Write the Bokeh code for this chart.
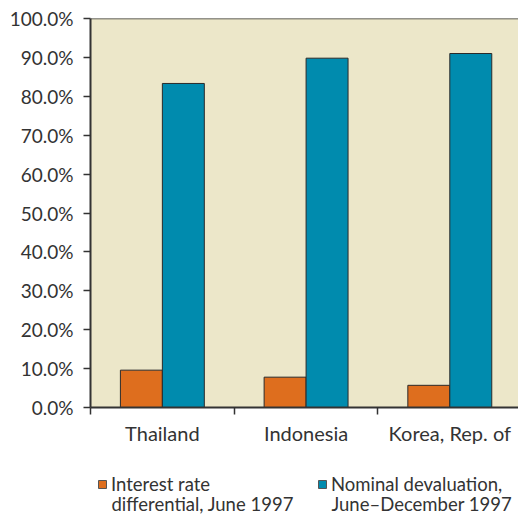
import numpy as np
from bokeh.plotting import figure
from bokeh.layouts import column
from bokeh.models import (ColumnDataSource, FixedTicker, PrintfTickFormatter, Legend,
                          LegendItem, Range1d, Span, Label)
from bokeh.embed import file_html
from bokeh.resources import INLINE

# ---- data ----
countries = ["Thailand", "Indonesia", "Korea, Rep. of"]
interest_rate_differential = [9.6, 7.8, 5.7]
nominal_devaluation = [83.3, 89.8, 91.0]
series_line1 = ["Interest rate", "Nominal devaluation,"]
series_line2 = ["differential, June 1997", "June\u2013December 1997"]
y_ticks = [0, 10, 20, 30, 40, 50, 60, 70, 80, 90, 100]

# ---- style ----
ORANGE = "#DE6E1E"
BLUE = "#008BAE"
BG = "#ECE7C9"
INK = "#333333"
EDGE = "#2A2A2A"
FONT = "Lato"

centers = np.arange(len(countries)) + 0.5
bar_w = 0.292
src = ColumnDataSource(dict(
    xo=centers - bar_w / 2, xb=centers + bar_w / 2,
    o=interest_rate_differential, b=nominal_devaluation))

p = figure(width=518, height=448, x_range=Range1d(0, 2.978), y_range=Range1d(0, 100),
           output_backend="svg", toolbar_location=None,
           min_border_left=90, min_border_right=0, min_border_top=18, min_border_bottom=41,
           background_fill_color=BG, border_fill_color="white", outline_line_color=None)
p.grid.visible = False

p.vbar(x="xo", top="o", width=bar_w, source=src, fill_color=ORANGE, line_color=EDGE, line_width=1)
p.vbar(x="xb", top="b", width=bar_w, source=src, fill_color=BLUE, line_color=EDGE, line_width=1)

p.add_layout(Span(location=100, dimension="width", line_color=INK, line_width=1.5))

# y axis
ya = p.yaxis[0]
ya.ticker = FixedTicker(ticks=y_ticks)
ya.formatter = PrintfTickFormatter(format="%.1f%%")
ya.major_tick_out = 7
ya.major_tick_in = 0
ya.minor_tick_line_color = None
ya.axis_line_color = INK
ya.axis_line_width = 2
ya.major_tick_line_color = INK
ya.major_tick_line_width = 1.5
ya.major_label_text_font = FONT
ya.major_label_text_font_size = "19px"
ya.major_label_text_color = INK
ya.major_label_standoff = 10

# x axis
xa = p.xaxis[0]
xa.ticker = FixedTicker(ticks=list(centers), minor_ticks=list(range(len(countries) + 1)))
xa.major_label_overrides = {float(c): n for c, n in zip(centers, countries)}
xa.major_tick_out = 0
xa.major_tick_in = 0
xa.major_tick_line_color = None
xa.minor_tick_out = 7
xa.minor_tick_in = 0
xa.minor_tick_line_color = INK
xa.minor_tick_line_width = 1.5
xa.axis_line_color = INK
xa.axis_line_width = 2
xa.major_label_text_font = FONT
xa.major_label_text_font_size = "20px"
xa.major_label_text_color = INK
xa.major_label_standoff = 6

# ---- legend strip (frame aligned with the chart's frame) ----
LEG_H = 66
q = figure(width=518, height=LEG_H, x_range=Range1d(100, 101), y_range=Range1d(200, 201),
           output_backend="svg", toolbar_location=None,
           min_border_left=90, min_border_right=0, min_border_top=0, min_border_bottom=0,
           x_axis_location=None, y_axis_location=None,
           outline_line_color=None, background_fill_color="white", border_fill_color="white")
q.grid.visible = False

legend_x = [7, 227]
for key, top_col, colr, l1, l2, lx in zip(["xo", "xb"], ["o", "b"], [ORANGE, BLUE],
                                          series_line1, series_line2, legend_x):
    r = q.vbar(x=key, top=top_col, width=bar_w, source=src, fill_color=colr,
               line_color="#555555", line_width=1)
    lg = Legend(items=[LegendItem(label=l1, renderers=[r])], location=(lx, 19),
                glyph_width=10, glyph_height=10, label_standoff=4,
                padding=0, margin=0, border_line_color=None, background_fill_alpha=0,
                label_text_font=FONT, label_text_font_size="18.5px", label_text_color=INK)
    q.add_layout(lg, "center")
    q.add_layout(Label(x=lx + 14, y=11, x_units="screen", y_units="screen", text=l2,
                       text_font=FONT, text_font_size="18.5px", text_color=INK,
                       text_baseline="alphabetic", text_align="left"))

open("out.html", "w").write(file_html(column(p, q, spacing=0), INLINE))
